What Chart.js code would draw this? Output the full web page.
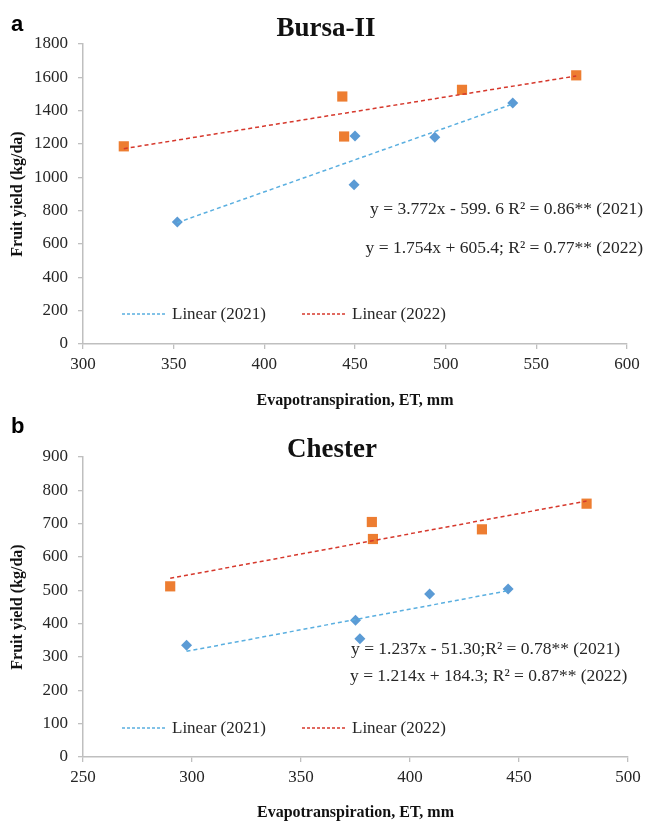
<!DOCTYPE html>
<html>
<head>
<meta charset="utf-8">
<script src="https://cdn.jsdelivr.net/npm/chart.js@4.4.1/dist/chart.umd.min.js"></script>
<style>
  html, body { margin: 0; padding: 0; background: #fff; }
  #wrap { position: relative; width: 646px; height: 822px; overflow: hidden; }
  canvas { position: absolute; left: 0; }
  .lab { position: absolute; font-family: "Liberation Sans", Arial, sans-serif; font-weight: bold; font-size: 22px; color: #000; line-height: 1; }
  .ttl { position: absolute; font-family: "Liberation Serif", "Times New Roman", serif; font-weight: bold; font-size: 27px; color: #111; line-height: 1; white-space: nowrap; transform: translateX(-50%); }
  .eq { position: absolute; font-family: "Liberation Serif", "Times New Roman", serif; font-size: 17.5px; color: #262626; line-height: 1; white-space: nowrap; }
</style>
</head>
<body>
<div id="wrap">
  <canvas id="cA" width="646" height="410" style="top:0"></canvas>
  <canvas id="cB" width="646" height="412" style="top:410px"></canvas>
  <div class="lab" style="left:11px; top:13px">a</div>
  <div class="ttl" style="left:326px; top:14px">Bursa-II</div>
  <div class="eq" style="right:3px; top:200px">y = 3.772x - 599. 6 R² = 0.86** (2021)</div>
  <div class="eq" style="right:3px; top:239px">y = 1.754x + 605.4; R² = 0.77** (2022)</div>
  <div class="lab" style="left:11px; top:415px">b</div>
  <div class="ttl" style="left:332px; top:435px">Chester</div>
  <div class="eq" style="left:351px; top:640px">y = 1.237x - 51.30;R² = 0.78** (2021)</div>
  <div class="eq" style="left:350px; top:667px">y = 1.214x + 184.3; R² = 0.87** (2022)</div>
</div>
<script>
// ---------- DATA ----------
// Panel a: Bursa-II
const bursaET2021    = [352, 449.5, 450, 494, 537];
const bursaYield2021 = [732, 955, 1248, 1240, 1446];
const bursaET2022    = [322.5, 443, 444, 509, 572];
const bursaYield2022 = [1186, 1485, 1245, 1525, 1612];
const bursaTrendET2021    = [352, 537];
const bursaTrendYield2021 = [728, 1440];
const bursaTrendET2022    = [322.5, 572];
const bursaTrendYield2022 = [1172, 1608];
const bursaXTicks = [300, 350, 400, 450, 500, 550, 600];
const bursaYTicks = [0, 200, 400, 600, 800, 1000, 1200, 1400, 1600, 1800];

// Panel b: Chester
const chesterET2021    = [297.5, 375, 377, 409, 445];
const chesterYield2021 = [335, 410, 355, 489, 504];
const chesterET2022    = [290, 382.5, 383, 433, 481];
const chesterYield2022 = [512, 705, 654, 683, 760];
const chesterTrendET2021    = [297.5, 445];
const chesterTrendYield2021 = [317, 499];
const chesterTrendET2022    = [290, 481];
const chesterTrendYield2022 = [536, 768];
const chesterXTicks = [250, 300, 350, 400, 450, 500];
const chesterYTicks = [0, 100, 200, 300, 400, 500, 600, 700, 800, 900];

const legendLabels = ['Linear (2021)', 'Linear (2022)'];
const xTitle = 'Evapotranspiration, ET, mm';
const yTitle = 'Fruit yield (kg/da)';

// ---------- HELPERS ----------
const zip = (xs, ys) => xs.map((x, i) => ({ x: x, y: ys[i] }));
const SERIF = '"Liberation Serif", "Times New Roman", serif';
const AXIS = '#BFBFBF';
const BLUE = '#5B9BD5', ORANGE = '#ED7D31';
const TBLUE = '#5AAFE0', TRED = '#D6382C';

const legendPlugin = {
  id: 'inlineLegend',
  afterDraw(chart, args, opts) {
    const ctx = chart.ctx;
    ctx.save();
    const y = opts.y;
    chart.data.datasets.forEach((ds) => {
      if (!ds.legendText) return;
      const p = opts.items[ds.legendText];
      ctx.strokeStyle = ds.borderColor;
      ctx.lineWidth = 1.3;
      ctx.setLineDash([3, 2]);
      ctx.beginPath();
      ctx.moveTo(p.x1, y);
      ctx.lineTo(p.x2, y);
      ctx.stroke();
      ctx.setLineDash([]);
      ctx.fillStyle = '#262626';
      ctx.font = '17px ' + SERIF;
      ctx.textBaseline = 'middle';
      ctx.textAlign = 'left';
      ctx.fillText(ds.legendText, p.x2 + 6, y + 1);
    });
    ctx.restore();
  }
};

function makeChart(id, d, cfg) {
  const ctx = document.getElementById(id);
  return new Chart(ctx, {
    type: 'scatter',
    data: {
      datasets: [
        { label: legendLabels[0], legendText: legendLabels[0], data: zip(d.tx1, d.ty1), showLine: true,
          borderColor: TBLUE, borderWidth: 1.5, borderDash: [4, 3], pointRadius: 0, fill: false },
        { label: legendLabels[1], legendText: legendLabels[1], data: zip(d.tx2, d.ty2), showLine: true,
          borderColor: TRED, borderWidth: 1.5, borderDash: [4, 3], pointRadius: 0, fill: false },
        { label: '2021', data: zip(d.x1, d.y1), pointStyle: 'rectRot', pointRadius: 5.5,
          backgroundColor: BLUE, borderColor: BLUE, borderWidth: 0, showLine: false },
        { label: '2022', data: zip(d.x2, d.y2), pointStyle: 'rect', pointRadius: 7.2,
          backgroundColor: ORANGE, borderColor: ORANGE, borderWidth: 0, showLine: false }
      ]
    },
    options: {
      responsive: false,
      animation: false,
      events: [],
      layout: { padding: { left: 0, right: cfg.padRight, top: cfg.padTop, bottom: 0 } },
      plugins: {
        legend: { display: false },
        tooltip: { enabled: false },
        title: { display: false },
        inlineLegend: {
          y: cfg.legendY,
          items: {
            'Linear (2021)': { x1: 122, x2: 166 },
            'Linear (2022)': { x1: 302, x2: 346 }
          }
        }
      },
      scales: {
        x: {
          type: 'linear',
          min: d.xt[0], max: d.xt[d.xt.length - 1],
          afterBuildTicks: (s) => { s.ticks = d.xt.map(v => ({ value: v })); },
          afterFit: (s) => { s.height = cfg.xH; },
          grid: { drawOnChartArea: false, drawTicks: true, tickLength: 5, color: AXIS, lineWidth: 1.3 },
          border: { display: true, color: AXIS, width: 1.5 },
          ticks: { color: '#262626', font: { family: SERIF, size: 17 }, padding: 5, maxRotation: 0, autoSkip: false,
                   callback: (v) => String(v) },
          title: { display: true, text: xTitle, color: '#111', font: { family: SERIF, size: 16, weight: 'bold' },
                   padding: { top: 0, bottom: cfg.xTitlePad } }
        },
        y: {
          type: 'linear',
          min: d.yt[0], max: d.yt[d.yt.length - 1],
          afterBuildTicks: (s) => { s.ticks = d.yt.map(v => ({ value: v })); },
          afterFit: (s) => { s.width = 83; },
          grid: { drawOnChartArea: false, drawTicks: true, tickLength: 5, color: AXIS, lineWidth: 1.3 },
          border: { display: true, color: AXIS, width: 1.5 },
          ticks: { color: '#262626', font: { family: SERIF, size: 17 }, padding: 10, autoSkip: false,
                   callback: (v) => String(v) },
          title: { display: true, text: yTitle, color: '#111', font: { family: SERIF, size: 16, weight: 'bold' },
                   padding: { top: 8, bottom: 0 } }
        }
      }
    },
    plugins: [legendPlugin]
  });
}

makeChart('cA', {
  x1: bursaET2021, y1: bursaYield2021, x2: bursaET2022, y2: bursaYield2022,
  tx1: bursaTrendET2021, ty1: bursaTrendYield2021, tx2: bursaTrendET2022, ty2: bursaTrendYield2022,
  xt: bursaXTicks, yt: bursaYTicks
}, { padRight: 19, padTop: 44, xH: 66, legendY: 314, xTitlePad: 0 });

makeChart('cB', {
  x1: chesterET2021, y1: chesterYield2021, x2: chesterET2022, y2: chesterYield2022,
  tx1: chesterTrendET2021, ty1: chesterTrendYield2021, tx2: chesterTrendET2022, ty2: chesterTrendYield2022,
  xt: chesterXTicks, yt: chesterYTicks
}, { padRight: 18, padTop: 47, xH: 65, legendY: 318, xTitlePad: 0 });
</script>
</body>
</html>
